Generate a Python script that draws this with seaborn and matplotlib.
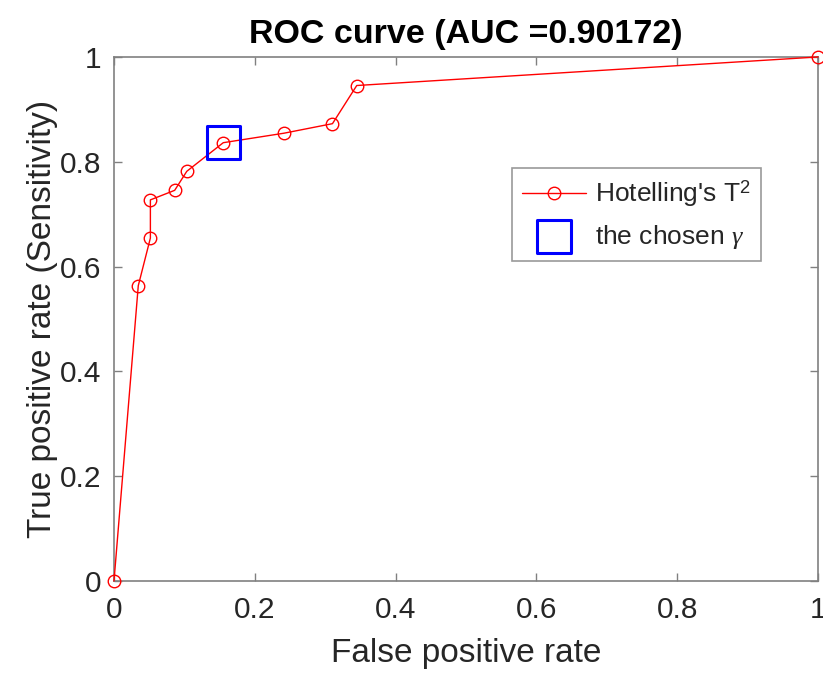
import matplotlib
matplotlib.use("Agg")
import matplotlib.pyplot as plt
import seaborn as sns
import pandas as pd

# Data
fpr = [0.0, 0.0345, 0.0517, 0.0517, 0.0862, 0.1034, 0.1552, 0.2414, 0.3103, 0.3448, 1.0]
tpr = [0.0, 0.5636, 0.6545, 0.7273, 0.7455, 0.7818, 0.8364, 0.8545, 0.8727, 0.9455, 1.0]
chosen_fpr = [0.1552]
chosen_tpr = [0.8364]
tick_vals = [0, 0.2, 0.4, 0.6, 0.8, 1]
tick_labels = ["0", "0.2", "0.4", "0.6", "0.8", "1"]

sns.set_theme(style="white")
plt.rcParams['font.family'] = ['Liberation Sans', 'DejaVu Sans']
plt.rcParams['mathtext.fontset'] = 'custom'
plt.rcParams['mathtext.rm'] = 'Liberation Sans'
plt.rcParams['mathtext.it'] = 'Liberation Serif:italic'

fig = plt.figure(figsize=(8.23, 6.78), dpi=100)
ax = fig.add_axes([0.1385, 0.143, 0.8555, 0.773])

df = pd.DataFrame({"fpr": fpr, "tpr": tpr})
dc = pd.DataFrame({"fpr": chosen_fpr, "tpr": chosen_tpr})

sns.lineplot(data=df, x="fpr", y="tpr", sort=False, estimator=None, ax=ax,
             color="red", linewidth=1.0, marker="o", markersize=9,
             markerfacecolor="none", markeredgecolor="red", markeredgewidth=1.0,
             label="Hotelling's T$^2$", clip_on=False, zorder=3)
sns.scatterplot(data=dc, x="fpr", y="tpr", ax=ax, marker="s", s=24**2,
                facecolor="none", edgecolor="blue", linewidth=2.2,
                label=r"the chosen $\gamma$", zorder=4)

ax.set_xlim(0, 1)
ax.set_ylim(0, 1)
ax.set_xticks(tick_vals)
ax.set_xticklabels(tick_labels)
ax.set_yticks(tick_vals)
ax.set_yticklabels(tick_labels)

gray = "#262626"
for s in ax.spines.values():
    s.set_visible(True)
    s.set_color("#808080")
    s.set_linewidth(1.2)
ax.tick_params(axis="both", which="both", direction="in", top=True, right=True,
               bottom=True, left=True, length=6, width=1.0, color="#808080",
               labelsize=21.5, labelcolor=gray)
ax.tick_params(axis="x", pad=11)
ax.tick_params(axis="y", pad=9)

ax.set_xlabel("False positive rate", fontsize=24, color=gray, labelpad=10)
ax.set_ylabel("True positive rate (Sensitivity)", fontsize=24, color=gray, labelpad=1.5)
ax.set_title("ROC curve (AUC =0.90172)", fontsize=24.5, fontweight="bold", color="black", pad=10)

leg = ax.legend(loc="upper left", bbox_to_anchor=(0.622, 0.752),
                bbox_transform=fig.transFigure, fontsize=19,
                frameon=True, fancybox=False, edgecolor="#808080",
                borderpad=0.4, borderaxespad=0, handlelength=2.4,
                labelspacing=0.5, handletextpad=0.35)
leg.get_frame().set_linewidth(1.2)
for t in leg.get_texts():
    t.set_color(gray)

fig.savefig("out.png", dpi=100)
